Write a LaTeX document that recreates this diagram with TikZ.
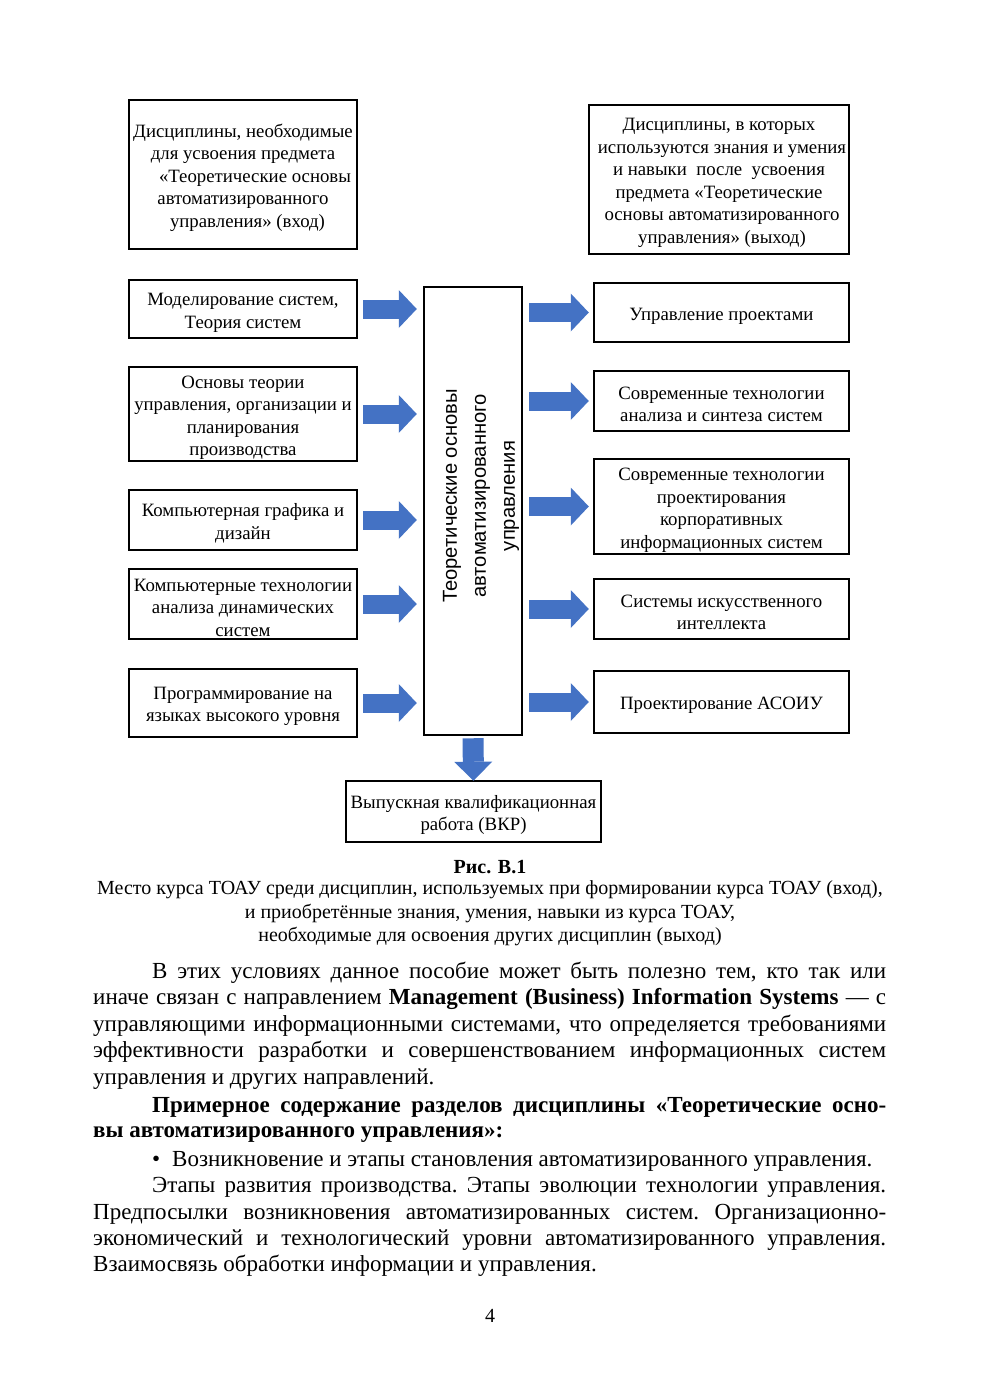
\documentclass[tikz,border=0pt]{standalone}
\usepackage{fontspec}
\setmainfont{Liberation Serif}
\newfontfamily\sansf{Liberation Sans}
\usetikzlibrary{arrows.meta}
\definecolor{arrblue}{HTML}{4472C4}
\newlength\bodyW \setlength\bodyW{793pt}
\newcommand\diagfont{\fontsize{18.8}{22.5}\selectfont}
\newcommand\capfont{\fontsize{20}{23.5}\selectfont}
\newcommand\bodyfont{\frenchspacing\fontsize{23}{26.5}\selectfont}
\newcommand\jl[2]{\hbox to \bodyW{\hskip#1\relax #2}}
\newcommand\nl[2]{\hbox{\hskip#1\relax #2}}
\newcommand\st{\rule{0pt}{19.5pt}}
\tikzset{
 box/.style={draw, line width=2.5pt, inner sep=0pt, align=center, font=\diagfont},
 harrow/.style={line width=19pt, draw=arrblue, -{Triangle[width=38pt,length=18pt,line width=0pt]}},
 varrow/.style={line width=21pt, draw=arrblue, -{Triangle[width=38pt,length=19pt,line width=0pt]}},
 bl/.style={anchor=base west, inner sep=0pt, font=\bodyfont},
 cl/.style={anchor=base, inner sep=0pt, font=\capfont},
}
\begin{document}
\begin{tikzpicture}[x=1pt,y=-1pt]
\useasboundingbox[fill=white] (0,0) rectangle (980,1386);
% top boxes
\node[box, minimum width=228, minimum height=149] (lt) at (243,174.5)
 {\st Дисциплины, необходимые\\для усвоения предмета\\\hspace*{24pt}«Теоретические основы\\автоматизированного\\\hspace*{9pt}управления» (вход)};
\node[box, minimum width=260, minimum height=149] (rt) at (719,179.5)
 {\st Дисциплины, в которых\\\hspace*{6pt}используются знания и умения\\и навыки\ \ после\ \ усвоения\\предмета «Теоретические\\\hspace*{6pt}основы автоматизированного\\\hspace*{6pt}управления» (выход)};
% left boxes
\node[box, minimum width=228, minimum height=58] (l1) at (243,309) {\st Моделирование систем,\\Теория систем};
\node[box, minimum width=228, minimum height=94] (l2) at (243,414) {\st Основы теории\\управления, организации и\\планирования\\производства};
\node[box, minimum width=228, minimum height=60] (l3) at (243,520) {\st Компьютерная графика и\\дизайн};
\node[box, minimum width=228, minimum height=70] (l4) at (243,604) {\st Компьютерные технологии\\анализа динамических\\систем};
\node[box, minimum width=228, minimum height=68] (l5) at (243,703) {\st Программирование на\\языках высокого уровня};
% centre
\node[draw, line width=2.5pt, minimum width=98, minimum height=448] (c) at (473,511) {};
\node[inner sep=0pt, rotate=90, align=center, font=\sansf\fontsize{20.2}{29}\selectfont] (ct) at (481,496)
 {Теоретические основы\\автоматизированного\\управления};
% right boxes
\node[box, minimum width=255, minimum height=59] (r1) at (721.5,312.5) {\st Управление проектами};
\node[box, minimum width=255, minimum height=60] (r2) at (721.5,401) {\st Современные технологии\\анализа и синтеза систем};
\node[box, minimum width=255, minimum height=95] (r3) at (721.5,506.5) {\st Современные технологии\\проектирования\\корпоративных\\информационных систем};
\node[box, minimum width=255, minimum height=60] (r4) at (721.5,609) {\st Системы искусственного\\интеллекта};
\node[box, minimum width=255, minimum height=62] (r5) at (721.5,702) {\st Проектирование АСОИУ};
% bottom
\node[box, minimum width=255, minimum height=61] (bt) at (473.5,811.5) {\st Выпускная квалификационная\\работа (ВКР)};
% arrows
\foreach \s in {l1,l2,l3,l4,l5}
 \draw[harrow, shorten <=5pt, shorten >=6pt] (\s.east) -- (\s.east -| c.west);
\foreach \s in {r1,r2,r3,r4,r5}
 \draw[harrow, shorten <=6pt, shorten >=4pt] (\s.west -| c.east) -- (\s.west);
\draw[varrow, shorten <=2pt, shorten >=-1pt] (c.south) -- (bt.north);
% caption
\node[cl, font=\bfseries\capfont] (cap0) at (490,873) {Рис. В.1};
\node[cl] (cap1) at (490,894) {Место курса ТОАУ среди дисциплин, используемых при формировании курса ТОАУ (вход),};
\node[cl] (cap2) at (490,918) {и приобретённые знания, умения, навыки из курса ТОАУ,};
\node[cl] (cap3) at (490,941) {необходимые для освоения других дисциплин (выход)};
% body
\node[bl] (b1) at (93,978) {\jl{59pt}{В этих условиях данное пособие может быть полезно тем, кто так или}};
\node[bl] (b2) at (93,1004) {\jl{0pt}{иначе связан с направлением \textbf{Management (Business) Information Systems} — с}};
\node[bl] (b3) at (93,1031) {\jl{0pt}{управляющими информационными системами, что определяется требованиями}};
\node[bl] (b4) at (93,1057) {\jl{0pt}{эффективности разработки и совершенствованием информационных систем}};
\node[bl] (b5) at (93,1084) {\nl{0pt}{управления и других направлений.}};
\node[bl] (b6) at (93,1112) {\jl{59pt}{\bfseries Примерное содержание разделов дисциплины «Теоретические осно-}};
\node[bl] (b7) at (93,1137) {\nl{0pt}{\bfseries вы автоматизированного управления»:}};
\node[bl] (b8) at (93,1166) {\nl{59pt}{•\hskip 12pt Возникновение и этапы становления автоматизированного управления.}};
\node[bl] (b9) at (93,1192) {\jl{59pt}{Этапы развития производства. Этапы эволюции технологии управления.}};
\node[bl] (b10) at (93,1219) {\jl{0pt}{Предпосылки возникновения автоматизированных систем. Организационно-}};
\node[bl] (b11) at (93,1245) {\jl{0pt}{экономический и технологический уровни автоматизированного управления.}};
\node[bl] (b12) at (93,1271) {\nl{0pt}{Взаимосвязь обработки информации и управления.}};
\node[cl] (pg) at (490,1322) {4};
\end{tikzpicture}
\end{document}
